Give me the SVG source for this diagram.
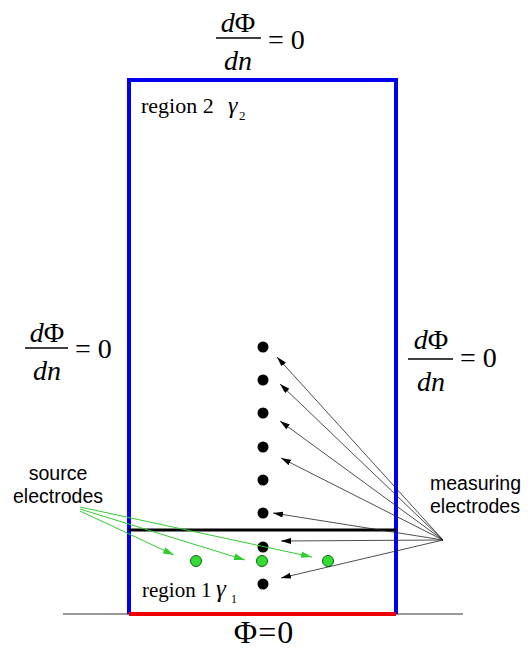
<svg xmlns="http://www.w3.org/2000/svg" width="528" height="651" viewBox="0 0 528 651">
<style>
.math{font-family:"Liberation Serif","Times New Roman",serif;fill:#000}
.it{font-style:italic}
.up{font-style:normal}
.lbl{font-family:"Liberation Sans",Arial,sans-serif;font-size:19.5px;fill:#000}
.bar{stroke:#000;stroke-width:1.3}
.mline{stroke:#222;stroke-width:0.8;fill:none}
.sline{stroke:#33cc33;stroke-width:1;fill:none}
.dot{fill:#000}
.gdot{fill:#33dd33;stroke:#116611;stroke-width:1}
</style>
<defs>
<marker id="ah" viewBox="0 0 10 6" refX="10" refY="3" markerWidth="10" markerHeight="6" markerUnits="userSpaceOnUse" orient="auto"><path d="M0,0 L10,3 L0,6 Z" fill="#000"/></marker>
<marker id="gh" viewBox="0 0 10 6" refX="10" refY="3" markerWidth="11" markerHeight="7" markerUnits="userSpaceOnUse" orient="auto"><path d="M0,0 L10,3 L0,6 Z" fill="#33cc33"/></marker>
</defs>
<rect width="528" height="651" fill="#fff"/>
<g id="boundary">
<line x1="63" y1="614" x2="463" y2="614" stroke="#999" stroke-width="2"/>
<polyline points="129,614 129,80 396,80 396,614" fill="none" stroke="#0000ee" stroke-width="4"/>
<line x1="129" y1="614" x2="396" y2="614" stroke="#ee0000" stroke-width="4"/>
<line x1="129" y1="530" x2="396" y2="530" stroke="#000" stroke-width="3"/>
</g>
<g id="bc-top">
<text class="math it" x="238" y="32" font-size="28" text-anchor="middle">d<tspan class="up">Φ</tspan></text>
<line class="bar" x1="216" y1="38" x2="261" y2="38"/>
<text class="math it" x="238" y="70" font-size="28" text-anchor="middle">dn</text>
<text class="math" x="268" y="49" font-size="28">= 0</text>
</g>
<g id="bc-left">
<text class="math it" x="47" y="342" font-size="28" text-anchor="middle">d<tspan class="up">Φ</tspan></text>
<line class="bar" x1="25" y1="348" x2="68" y2="348"/>
<text class="math it" x="47" y="380" font-size="28" text-anchor="middle">dn</text>
<text class="math" x="75" y="358" font-size="28">= 0</text>
</g>
<g id="bc-right">
<text class="math it" x="431" y="349" font-size="28" text-anchor="middle">d<tspan class="up">Φ</tspan></text>
<line class="bar" x1="408" y1="359" x2="453" y2="359"/>
<text class="math it" x="431" y="391" font-size="28" text-anchor="middle">dn</text>
<text class="math" x="460" y="367" font-size="28">= 0</text>
</g>
<g id="bc-bottom">
<text class="math" x="264" y="643" font-size="32" text-anchor="middle" letter-spacing="1">Φ=0</text>
</g>
<g id="region2">
<text class="math" x="141" y="113" font-size="22">region 2</text>
<text class="math it" x="228" y="113" font-size="24">γ</text>
<text class="math" x="239" y="120" font-size="13">2</text>
</g>
<g id="region1">
<text class="math" x="142" y="597" font-size="21">region 1</text>
<text class="math it" x="216" y="597" font-size="25">γ</text>
<text class="math" x="231" y="603" font-size="12">1</text>
</g>
<g id="measuring-electrodes">
<circle class="dot" cx="263" cy="347" r="5.5"/>
<circle class="dot" cx="263" cy="380" r="5.5"/>
<circle class="dot" cx="263" cy="413" r="5.5"/>
<circle class="dot" cx="263" cy="447" r="5.5"/>
<circle class="dot" cx="263" cy="480" r="5.5"/>
<circle class="dot" cx="263" cy="513" r="5.5"/>
<circle class="dot" cx="263" cy="547" r="5.5"/>
<circle class="dot" cx="263" cy="584" r="5.5"/>
</g>
<g id="source-electrodes">
<circle class="gdot" cx="196" cy="561" r="5.5"/>
<circle class="gdot" cx="262" cy="561" r="5.5"/>
<circle class="gdot" cx="328" cy="561" r="5.5"/>
</g>
<g id="label-source">
<text class="lbl" x="58" y="480" text-anchor="middle">source</text>
<text class="lbl" x="58" y="503" text-anchor="middle">electrodes</text>
</g>
<g id="label-measuring">
<text class="lbl" x="430" y="490">measuring</text>
<text class="lbl" x="430" y="513">electrodes</text>
</g>
<g id="connectors">
<line class="mline" x1="443" y1="540" x2="277" y2="357" marker-end="url(#ah)"/>
<line class="mline" x1="443" y1="540" x2="280" y2="384" marker-end="url(#ah)"/>
<line class="mline" x1="443" y1="540" x2="280" y2="421" marker-end="url(#ah)"/>
<line class="mline" x1="443" y1="540" x2="281" y2="458" marker-end="url(#ah)"/>
<line class="mline" x1="443" y1="540" x2="273" y2="513" marker-end="url(#ah)"/>
<line class="mline" x1="443" y1="540" x2="281" y2="541" marker-end="url(#ah)"/>
<line class="mline" x1="443" y1="540" x2="281" y2="578" marker-end="url(#ah)"/>
<line class="sline" x1="80" y1="507" x2="312" y2="557" marker-end="url(#gh)"/>
<line class="sline" x1="80" y1="509" x2="245" y2="560" marker-end="url(#gh)"/>
<line class="sline" x1="80" y1="511" x2="174" y2="555" marker-end="url(#gh)"/>
</g>
</svg>
